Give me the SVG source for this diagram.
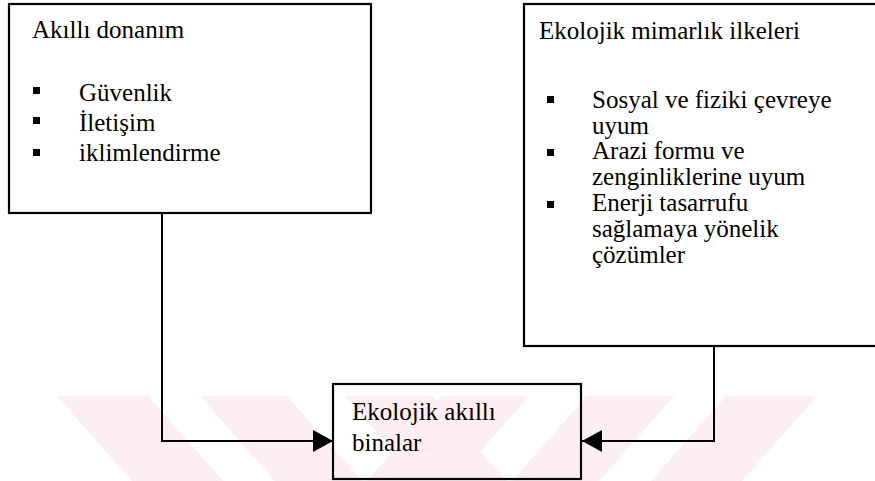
<svg xmlns="http://www.w3.org/2000/svg" width="875" height="481" viewBox="0 0 875 481">
<style>
.box{fill:none;stroke:#000;stroke-width:2.2}
.b{fill:#000}
.wm{fill:#fdeef1}
.c{fill:none;stroke:#000;stroke-width:2}
text{font-family:"Liberation Serif","Times New Roman",Tinos,serif;font-size:25px;fill:#000}
</style>
<defs>
<marker id="ah" viewBox="0 0 20 22" refX="20" refY="11" markerWidth="20" markerHeight="22" markerUnits="userSpaceOnUse" orient="auto">
<path d="M0,0 L20,11 L0,22 Z" fill="#000"/>
</marker>
</defs>
<rect width="875" height="481" fill="#fff"/>
<g id="watermark">
<polygon class="wm" points="57,396 148,396 223,481 132,481"/>
<polygon class="wm" points="200,396 287,396 362,481 275,481"/>
<polygon class="wm" points="345,396 432,396 507,481 420,481"/>
<polygon class="wm" points="442,396 529,396 454,481 367,481"/>
<polygon class="wm" points="587,396 674,396 599,481 512,481"/>
<polygon class="wm" points="726,396 817,396 742,481 651,481"/>
</g>
<g id="connectors">
<polyline class="c" points="162,213 162,441 333,441" marker-end="url(#ah)"/>
<polyline class="c" points="714,346 714,441 582,441" marker-end="url(#ah)"/>
</g>
<g id="node-akilli-donanim">
<rect class="box" x="9" y="4" width="362" height="209"/>
<text x="32" y="38" style="font-family:'Liberation Serif',serif">Akıllı donanım</text>
<rect class="b" x="33" y="87" width="7" height="7"/>
<text x="79" y="101" style="font-family:'Liberation Serif',serif">Güvenlik</text>
<rect class="b" x="33" y="117" width="7" height="7"/>
<text x="79" y="131" style="font-family:'Liberation Serif',serif">İletişim</text>
<rect class="b" x="33" y="149" width="7" height="7"/>
<text x="79" y="161" style="font-family:'Liberation Serif',serif">iklimlendirme</text>
</g>
<g id="node-ekolojik-mimarlik">
<rect class="box" x="524" y="4" width="370" height="342"/>
<text x="539" y="39" style="font-family:'Liberation Serif',serif">Ekolojik mimarlık ilkeleri</text>
<rect class="b" x="547" y="96" width="7" height="7"/>
<text x="592" y="108" style="font-family:'Liberation Serif',serif">Sosyal ve fiziki çevreye</text>
<text x="592" y="134" style="font-family:'Liberation Serif',serif">uyum</text>
<rect class="b" x="547" y="149" width="7" height="7"/>
<text x="592" y="159" style="font-family:'Liberation Serif',serif">Arazi formu ve</text>
<text x="592" y="185" style="font-family:'Liberation Serif',serif">zenginliklerine uyum</text>
<rect class="b" x="547" y="201" width="7" height="7"/>
<text x="592" y="211" style="font-family:'Liberation Serif',serif">Enerji tasarrufu</text>
<text x="592" y="237" style="font-family:'Liberation Serif',serif">sağlamaya yönelik</text>
<text x="592" y="263" style="font-family:'Liberation Serif',serif">çözümler</text>
</g>
<g id="node-ekolojik-akilli-binalar">
<rect class="box" x="333" y="384" width="248" height="95"/>
<text x="352" y="420" style="font-family:'Liberation Serif',serif">Ekolojik akıllı</text>
<text x="352" y="451" style="font-family:'Liberation Serif',serif">binalar</text>
</g>
</svg>
